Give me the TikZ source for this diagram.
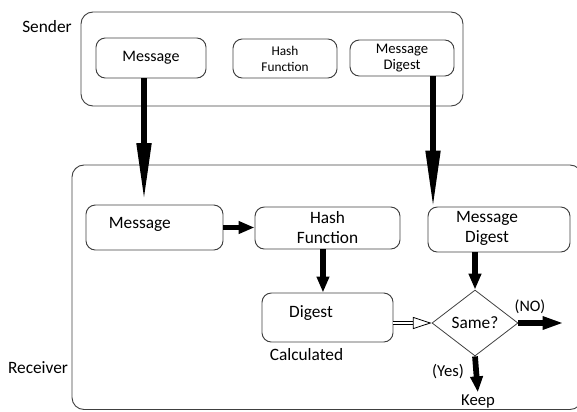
\documentclass[tikz,border=0pt]{standalone}
\usepackage{fontspec}
\setmainfont{Carlito}
\usetikzlibrary{arrows.meta,shapes.geometric}

\tikzset{
  frame/.style={draw=black!75, line width=0.7pt, rounded corners=9pt},
  box/.style={draw=black!75, line width=0.7pt, rounded corners=7pt, inner sep=0pt, align=center},
  bigtext/.style={font=\fontsize{13}{15}\selectfont},
  fatarrow/.style={line width=5pt, -{Triangle[length=46pt,width=10pt]}},
  flowarrow/.style={line width=4.3pt, -{Triangle[length=12pt,width=9pt]}},
  hollowarrow/.style={double=white, double distance=2.2pt, line width=0.6pt, -{Triangle[open,length=14pt,width=9pt]}}
}

\begin{document}
\begin{tikzpicture}[x=0.75pt,y=-0.75pt]
\useasboundingbox (0,0) rectangle (577,411);

% sender side
\node[bigtext] (sender) at (47,27) {Sender};
\draw[frame] (81,12) rectangle (463,106);
\node[box, minimum width=82.5pt, minimum height=30pt, font=\fontsize{12}{14}\selectfont] (sMsg) at (151,58) {Message};
\node[box, minimum width=78pt, minimum height=29.25pt, font=\fontsize{10}{12}\selectfont] (sHash) at (285,58.5) {Hash\\Function};
\node[box, minimum width=78pt, minimum height=27pt, font=\fontsize{11}{12.5}\selectfont] (sDig) at (402,58) {Message\\Digest};

% receiver side
\node[bigtext] (receiver) at (38,368) {Receiver};
\draw[frame] (72,165) rectangle (582,409.5);
\node[box, minimum width=102.75pt, minimum height=33.75pt,
  label={[bigtext, xshift=-11pt, yshift=2pt]center:Message}] (rMsg) at (154.5,227.5) {};
\node[box, bigtext, minimum width=108.75pt, minimum height=31.5pt] (rHash) at (327.5,228) {Hash\\Function};
\node[box, minimum width=106.5pt, minimum height=33.75pt,
  label={[bigtext, align=center, xshift=-9pt, yshift=1pt]center:Message\\Digest}] (rDig) at (499,229.5) {};
\node[box, minimum width=98.25pt, minimum height=36.75pt,
  label={[bigtext, xshift=-12.4pt, yshift=3.4pt]center:Digest}] (cDig) at (327.5,317.5) {};
\node[bigtext] (calc) at (306.5,355) {Calculated};
\node[diamond, draw=black!75, line width=0.6pt, bigtext, inner sep=0pt, minimum width=64.5pt, minimum height=49.5pt] (same) at (475,323) {Same?};
\node[font=\fontsize{12}{14}\selectfont] (no) at (530,307) {(NO)};
\node[font=\fontsize{12.5}{14}\selectfont] (yes) at (448,372) {(Yes)};
\node[font=\fontsize{12.5}{14}\selectfont, inner sep=0pt, anchor=north] (keep) at (478,395) {Keep};
\coordinate (reject) at (564,323);

% connectors
\draw[fatarrow] ([xshift=-5.25pt]sMsg.south) -- ([xshift=-5.25pt]sMsg.south |- rMsg.north);
\draw[fatarrow] ([xshift=23.25pt]sDig.south) -- ([xshift=23.25pt,yshift=-4pt]sDig.south |- rDig.north);
\draw[flowarrow] (rMsg.east) -- (rMsg.east -| rHash.west);
\draw[flowarrow] ([xshift=-3.4pt]rHash.south) -- ([xshift=-3.4pt]rHash.south |- cDig.north);
\draw[flowarrow] (same.north |- rDig.south) -- (same.north);
\draw[hollowarrow] (cDig.east |- same.west) -- (same.west);
\draw[flowarrow, -{Triangle[length=16pt,width=9pt]}] (same.east) -- (reject);
\draw[flowarrow, shorten >=2pt] (same.south) -- (keep.north);
\end{tikzpicture}
\end{document}
